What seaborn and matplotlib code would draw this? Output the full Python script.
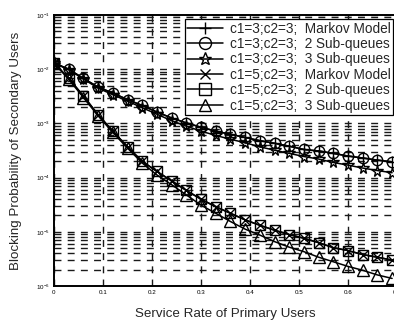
import numpy as np
import pandas as pd
import seaborn as sns
import matplotlib
matplotlib.use("Agg")
import matplotlib.pyplot as plt
from matplotlib.ticker import LogLocator, FixedLocator, NullFormatter

# Service rate of primary users (x axis)
service_rate = [0.00, 0.03, 0.06, 0.09, 0.12, 0.15, 0.18, 0.21, 0.24, 0.27, 0.30, 0.33,
                0.36, 0.39, 0.42, 0.45, 0.48, 0.51, 0.54, 0.57, 0.60, 0.63, 0.66, 0.69]

# c1=3; c2=3
c3_markov = [1.30e-2, 1.00e-2, 6.76e-3, 4.68e-3, 3.63e-3, 2.75e-3, 2.14e-3, 1.62e-3,
             1.26e-3, 1.02e-3, 8.5e-4, 7.2e-4, 6.3e-4, 5.5e-4, 4.8e-4, 4.3e-4,
             3.8e-4, 3.3e-4, 3.1e-4, 2.8e-4, 2.5e-4, 2.3e-4, 2.1e-4, 1.95e-4]
c3_two_sub = [1.30e-2, 1.00e-2, 6.76e-3, 4.68e-3, 3.63e-3, 2.75e-3, 2.14e-3, 1.62e-3,
              1.26e-3, 1.02e-3, 8.5e-4, 7.2e-4, 6.3e-4, 5.5e-4, 4.8e-4, 4.3e-4,
              3.8e-4, 3.3e-4, 3.1e-4, 2.8e-4, 2.5e-4, 2.3e-4, 2.1e-4, 1.95e-4]
c3_three_sub = [1.30e-2, 9.8e-3, 6.6e-3, 4.47e-3, 3.39e-3, 2.57e-3, 1.95e-3, 1.48e-3,
                1.12e-3, 8.9e-4, 7.2e-4, 6.0e-4, 5.1e-4, 4.4e-4, 3.7e-4, 3.2e-4,
                2.8e-4, 2.45e-4, 2.2e-4, 1.9e-4, 1.7e-4, 1.5e-4, 1.35e-4, 1.23e-4]

# c1=5; c2=3
c5_markov = [1.30e-2, 6.8e-3, 3.2e-3, 1.45e-3, 7.2e-4, 3.7e-4, 2.0e-4, 1.3e-4,
             8.7e-5, 5.8e-5, 4.0e-5, 2.9e-5, 2.2e-5, 1.66e-5, 1.32e-5, 1.07e-5,
             8.9e-6, 7.6e-6, 6.3e-6, 5.1e-6, 4.5e-6, 3.8e-6, 3.4e-6, 3.0e-6]
c5_two_sub = [1.30e-2, 6.8e-3, 3.2e-3, 1.45e-3, 7.2e-4, 3.7e-4, 2.0e-4, 1.3e-4,
              8.7e-5, 5.8e-5, 4.0e-5, 2.9e-5, 2.2e-5, 1.66e-5, 1.32e-5, 1.07e-5,
              8.9e-6, 7.6e-6, 6.3e-6, 5.1e-6, 4.5e-6, 3.8e-6, 3.4e-6, 3.0e-6]
c5_three_sub = [1.30e-2, 6.5e-3, 3.0e-3, 1.38e-3, 6.8e-4, 3.5e-4, 1.86e-4, 1.12e-4,
                7.4e-5, 4.8e-5, 3.1e-5, 2.2e-5, 1.55e-5, 1.12e-5, 8.7e-6, 6.6e-6,
                5.2e-6, 4.3e-6, 3.4e-6, 2.8e-6, 2.3e-6, 1.95e-6, 1.6e-6, 1.38e-6]

series_labels = ["c1=3;c2=3;  Markov Model", "c1=3;c2=3;  2 Sub-queues",
                 "c1=3;c2=3;  3 Sub-queues", "c1=5;c2=3;  Markov Model",
                 "c1=5;c2=3;  2 Sub-queues", "c1=5;c2=3;  3 Sub-queues"]
series_values = [c3_markov, c3_two_sub, c3_three_sub, c5_markov, c5_two_sub, c5_three_sub]
series_markers = ["+", "o", "*", "x", "s", "^"]
series_msize = [8, 7.5, 8.5, 6.5, 7, 8]

x_ticks = [0, 0.1, 0.2, 0.3, 0.4, 0.5, 0.6, 0.7]
x_ticklabels = ["0", "0.1", "0.2", "0.3", "0.4", "0.5", "0.6", "0.7"]

sns.set_style("white")
plt.rcParams["font.family"] = ["Liberation Sans", "DejaVu Sans"]
plt.rcParams["mathtext.fontset"] = "custom"
plt.rcParams["mathtext.rm"] = "Liberation Sans"

W, H = 394, 327
fig = plt.figure(figsize=(W / 100, H / 100), dpi=100)
left, right, top, bottom = 54, 397, 15, 286
ax = fig.add_axes([left / W, 1 - bottom / H, (right - left) / W, (bottom - top) / H])

frames = []
for lab, vals in zip(series_labels, series_values):
    frames.append(pd.DataFrame({"rate": service_rate, "prob": vals, "series": lab}))
df = pd.concat(frames, ignore_index=True)

for lab, mk, ms in zip(series_labels, series_markers, series_msize):
    sub = df[df["series"] == lab]
    sns.lineplot(data=sub, x="rate", y="prob", ax=ax, color="black", lw=1.1,
                 marker=mk, markersize=ms, markerfacecolor="none",
                 markeredgecolor="black", markeredgewidth=1.0, legend=False)

ax.set_yscale("log")
ax.set_xlim(0, 0.7)
ax.set_ylim(1e-6, 1e-1)
ax.xaxis.set_major_locator(FixedLocator(x_ticks))
ax.set_xticklabels(x_ticklabels)
ax.yaxis.set_major_locator(LogLocator(base=10, numticks=10))
ax.yaxis.set_minor_locator(LogLocator(base=10, subs=np.arange(2, 10), numticks=20))
ax.yaxis.set_minor_formatter(NullFormatter())

grid_kw = dict(color="0.1", linewidth=1.0, linestyle=(0, (5, 4.5)))
ax.grid(True, which="major", axis="both", **grid_kw)
ax.grid(True, which="minor", axis="y", **grid_kw)
ax.set_axisbelow(True)

ax.tick_params(axis="both", which="both", direction="in", labelsize=4.5,
               colors="black", length=3, width=0.8)
ax.tick_params(axis="y", which="minor", length=1.5)
ax.tick_params(axis="x", pad=3)
ax.tick_params(axis="y", pad=3)

for sp in ax.spines.values():
    sp.set_color("black")
    sp.set_linewidth(1.4)

ax.set_xlabel("Service Rate of Primary Users", fontsize=9.6, labelpad=9)
ax.set_ylabel("Blocking Probability of Secondary Users", fontsize=9.6, labelpad=10)

leg = ax.legend(handles=ax.get_lines()[:6], labels=series_labels,
                loc="upper right", bbox_to_anchor=(393 / W, 1 - 19 / H),
                bbox_transform=fig.transFigure, fontsize=9.8, frameon=True,
                fancybox=False, framealpha=1, edgecolor="black",
                borderpad=0.2, labelspacing=0.1, handlelength=2.6,
                handletextpad=0.5, borderaxespad=0)
leg.get_frame().set_linewidth(0.9)
for h in leg.legend_handles:
    h.set_markersize(h.get_markersize() * 1.15)

fig.savefig("out.png", dpi=100)
